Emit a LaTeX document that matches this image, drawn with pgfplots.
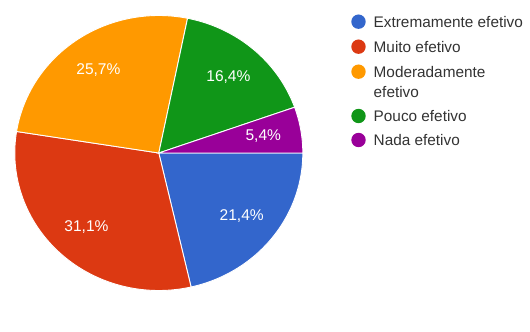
\documentclass[border=0pt]{standalone}
\usepackage{fontspec}
\setmainfont{Liberation Sans}
\usepackage{pgfplots}
\pgfplotsset{compat=1.18}
\usepackage{pgfplotstable}
\definecolor{slice0}{HTML}{3366CC}
\definecolor{slice1}{HTML}{DC3912}
\definecolor{slice2}{HTML}{FF9900}
\definecolor{slice3}{HTML}{109618}
\definecolor{slice4}{HTML}{990099}
\definecolor{legtext}{HTML}{333333}

\pgfplotstableread[col sep=comma]{
label,value
Extremamente efetivo,21.4
Muito efetivo,31.1
Moderadamente efetivo,25.7
Pouco efetivo,16.4
Nada efetivo,5.4
}\piedata

\def\cx{158.8}
\def\cy{178}
\def\rx{144}
\def\ry{137.5}

\begin{document}
\begin{tikzpicture}
\begin{axis}[
  width=530bp, height=331bp, scale only axis,
  xmin=0, xmax=530, ymin=0, ymax=331,
  hide axis, clip=false,
  /pgf/number format/assume math mode=true,
]
\path (rel axis cs:0,0) rectangle (rel axis cs:1,1);
\pgfmathsetmacro\cum{0}
\pgfplotsforeachungrouped \i in {0,...,4}{%
  \pgfplotstablegetelem{\i}{value}\of\piedata
  \let\v\pgfplotsretval
  \pgfmathsetmacro\sa{-3.6*(\cum+\v)}%
  \pgfmathsetmacro\sb{-3.6*\cum}%
  \edef\doslice{\noexpand\addplot[fill=slice\i, draw=white, line width=0.9bp, domain=\sa:\sb, samples=90, variable=\noexpand\t] ({\cx+\rx*cos(\noexpand\t)},{\cy+\ry*sin(\noexpand\t)}) -- (axis cs:\cx,\cy) -- cycle;}%
  \doslice
  \pgfmathsetmacro\cum{\cum+\v}%
}
\pgfmathsetmacro\cum{0}
\pgfplotsforeachungrouped \i in {0,...,4}{%
  \pgfplotstablegetelem{\i}{value}\of\piedata
  \let\v\pgfplotsretval
  \pgfmathsetmacro\md{-3.6*(\cum+\v/2)}%
  \pgfmathsetmacro\lx{\cx+106*cos(\md)}%
  \pgfmathsetmacro\ly{\cy+101*sin(\md)}%
  \edef\dolabel{\noexpand\node[text=white, font=\noexpand\fontsize{15.6}{18}\noexpand\selectfont, inner sep=0pt] at (axis cs:\lx,\ly) {\noexpand\pgfmathprintnumber[fixed, fixed zerofill, precision=1, use comma]{\v}\noexpand\%};}%
  \dolabel
  \pgfmathsetmacro\cum{\cum+\v}%
}
% legend
\fill[slice0] (axis cs:358.5,309.3) circle[radius=7.2bp];
\fill[slice1] (axis cs:358.5,284.3) circle[radius=7.2bp];
\fill[slice2] (axis cs:358.5,259.3) circle[radius=7.2bp];
\fill[slice3] (axis cs:358.5,215) circle[radius=7.2bp];
\fill[slice4] (axis cs:358.5,191) circle[radius=7.2bp];
\begin{scope}[every node/.style={anchor=base west, inner sep=0pt, text=legtext, font=\fontsize{15.4}{18}\selectfont}]
\node at (axis cs:373.5,303.8) {Extremamente efetivo};
\node at (axis cs:373.5,278.8) {Muito efetivo};
\node at (axis cs:373.5,253.8) {Moderadamente};
\node at (axis cs:373.5,233.9) {efetivo};
\node at (axis cs:373.5,209.5) {Pouco efetivo};
\node at (axis cs:373.5,185.5) {Nada efetivo};
\end{scope}
\end{axis}
\end{tikzpicture}
\end{document}
